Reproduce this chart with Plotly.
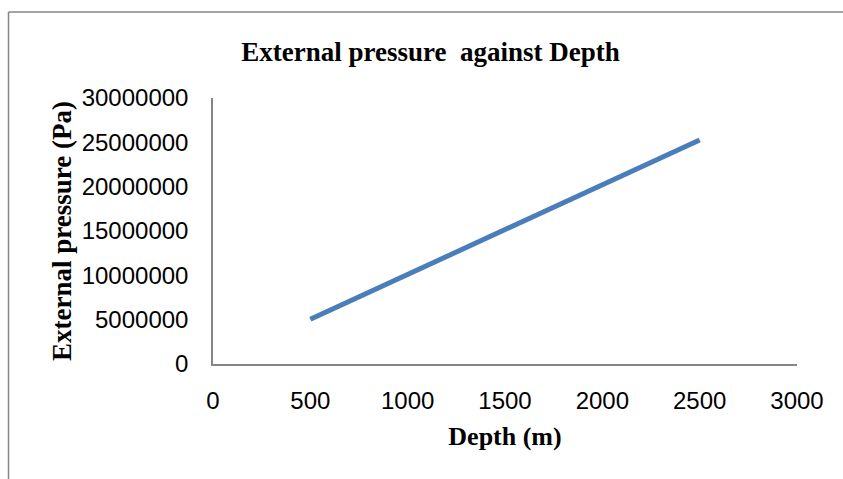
import plotly.graph_objects as go

depth_m = [500, 1000, 1500, 2000, 2500]
pressure_pa = [5050000, 10100000, 15160000, 20210000, 25260000]

x_ticks = [0, 500, 1000, 1500, 2000, 2500, 3000]
y_ticks = [0, 5000000, 10000000, 15000000, 20000000, 25000000, 30000000]

W, H = 843, 479
L, R, T, B = 213, 46, 98, 115
pw, ph = W - L - R, H - T - B

def px_to_paper_x(px):
    return (px - L) / pw

def px_to_paper_y(py):
    return (H - B - py) / ph

serif = "Liberation Serif, Times New Roman, serif"
sans = "Liberation Sans, Arial, sans-serif"
axis_gray = "#868686"

fig = go.Figure()
fig.add_trace(go.Scatter(
    x=depth_m, y=pressure_pa, mode="lines",
    line=dict(color="#4a7ebb", width=5),
    showlegend=False, hoverinfo="x+y",
))

fig.update_layout(
    width=W, height=H,
    margin=dict(l=L, r=R, t=T, b=B),
    paper_bgcolor="white", plot_bgcolor="white",
    title=dict(
        text="<b>External pressure \u00a0against Depth</b>",
        font=dict(family=serif, size=27, color="black"),
        x=430.5 / W, xref="container", xanchor="center",
        y=1 - 52 / H, yref="container", yanchor="middle",
    ),
    xaxis=dict(
        range=[0, 3000], tickvals=x_ticks, ticktext=[str(v) for v in x_ticks],
        showgrid=False, zeroline=False, showline=True, linecolor=axis_gray, linewidth=1.5,
        ticks="", ticklabelstandoff=14,
        tickfont=dict(family=sans, size=24, color="black"),
        title=dict(text="<b>Depth (m)</b>", font=dict(family=serif, size=26, color="black"), standoff=14),
    ),
    yaxis=dict(
        range=[0, 30000000], tickvals=y_ticks, ticktext=[str(v) for v in y_ticks],
        showgrid=False, zeroline=False, showline=True, linecolor=axis_gray, linewidth=1.5,
        ticks="", ticklabelstandoff=18,
        tickfont=dict(family=sans, size=24, color="black"),
        title=dict(text="<b>External pressure (Pa)</b>", font=dict(family=serif, size=27, color="black"), standoff=2),
    ),
    shapes=[
        dict(type="line", xref="paper", yref="paper",
             x0=px_to_paper_x(8.5), x1=px_to_paper_x(W + 20),
             y0=px_to_paper_y(12), y1=px_to_paper_y(12),
             line=dict(color=axis_gray, width=1.5)),
        dict(type="line", xref="paper", yref="paper",
             x0=px_to_paper_x(8.5), x1=px_to_paper_x(8.5),
             y0=px_to_paper_y(12), y1=px_to_paper_y(H + 20),
             line=dict(color=axis_gray, width=1.5)),
    ],
)

fig.write_html("out.html")
